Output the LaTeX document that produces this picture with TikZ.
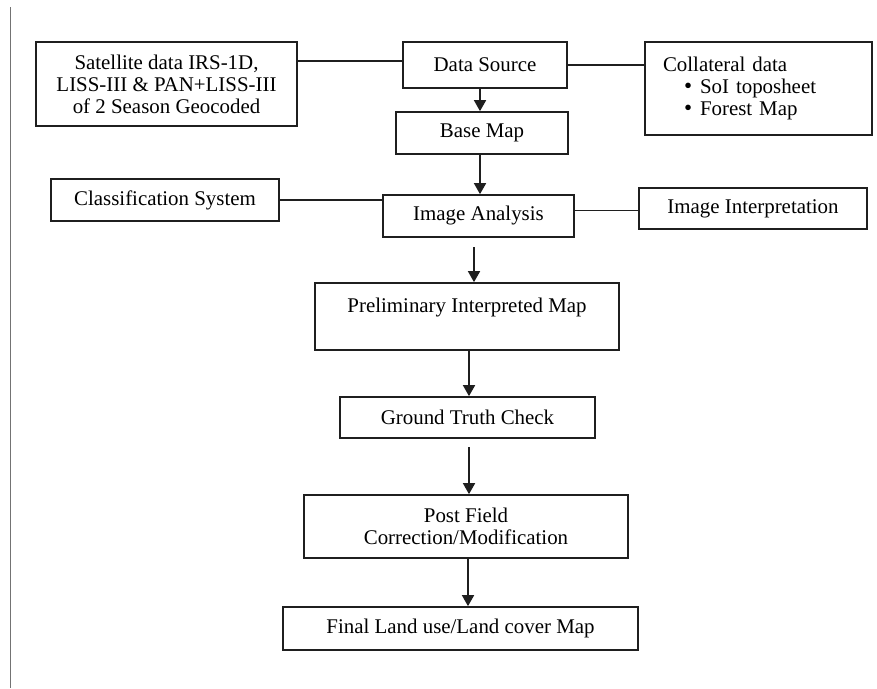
\documentclass[tikz,border=0pt]{standalone}
\usepackage{fontspec}
\setmainfont{Liberation Serif}
\usetikzlibrary{arrows.meta}
\newcommand{\bigbul}{\hspace*{21pt}\makebox[16pt][l]{\fontsize{23}{22}\selectfont\textbullet}}
\begin{document}
\begin{tikzpicture}[x=1pt,y=-1pt,
  box/.style={draw=black!88,line width=1.7pt,inner sep=0pt,align=center,
    font=\fontsize{20.9}{22}\selectfont},
  conn/.style={draw=black!88,line width=1.7pt},
  arr/.style={conn,-{Triangle[width=12pt,length=11pt]}}]
\useasboundingbox[fill=white] (0,0) rectangle (877,688);
\draw[black!55,line width=1pt] (10,7) -- (10,688);
\node[box,minimum width=261pt,minimum height=84pt] (sat) at (166.5,84)
  {Satellite data IRS-1D,\\LISS-III \& PAN+LISS-III\\of 2 Season Geocoded};
\node[box,minimum width=164pt,minimum height=46pt] (ds) at (485,65) {Data Source};
\node[box,minimum width=227pt,minimum height=93pt,text width=191pt,inner xsep=18pt,align=left] (coll) at (758.5,88.5)
  {Collateral data\\\bigbul SoI toposheet\\\bigbul Forest Map};
\node[box,minimum width=172pt,minimum height=42pt] (bm) at (482,133) {Base Map};
\node[box,minimum width=228pt,minimum height=42pt] (cls) at (165,200) {Classification System};
\node[box,minimum width=191pt,minimum height=42pt] (ia) at (478.5,216) {Image Analysis};
\node[box,minimum width=228pt,minimum height=41pt] (interp) at (753,208.5) {Image Interpretation};
\node[box,minimum width=304pt,minimum height=67pt] (pre) at (467,316.5) {Preliminary Interpreted Map\\\mbox{}};
\node[box,minimum width=255pt,minimum height=41pt] (gt) at (467.5,417.5) {Ground Truth Check};
\node[box,minimum width=324pt,minimum height=63pt] (post) at (466,526.5) {Post Field\\Correction/Modification};
\node[box,minimum width=355pt,minimum height=43pt] (fin) at (460.5,628.5) {Final Land use/Land cover Map};
\coordinate (c1) at (474,247);
\coordinate (c2) at (469,447);
% connectors
\draw[conn] ([yshift=-20pt]sat.north east) -- ([yshift=-20pt]sat.north east -| ds.west);
\draw[conn] (ds.east) -- (ds.east -| coll.west);
\draw[arr] ([xshift=-5pt]ds.south) -- ([xshift=-5pt]ds.south |- bm.north);
\draw[arr] ([xshift=-2pt]bm.south) -- ([xshift=-2pt]bm.south |- ia.north);
\draw[conn] (cls.east) -- (cls.east -| ia.west);
\draw[conn] ([yshift=-2pt]interp.west) -- ([yshift=-2pt]interp.west -| ia.east);
\draw[arr] (c1) -- (c1 |- pre.north);
\draw[arr] ([xshift=2pt]pre.south) -- ([xshift=2pt]pre.south |- gt.north);
\draw[arr] (c2) -- (c2 |- post.north);
\draw[arr] ([xshift=2pt]post.south) -- ([xshift=2pt]post.south |- fin.north);
\end{tikzpicture}
\end{document}
